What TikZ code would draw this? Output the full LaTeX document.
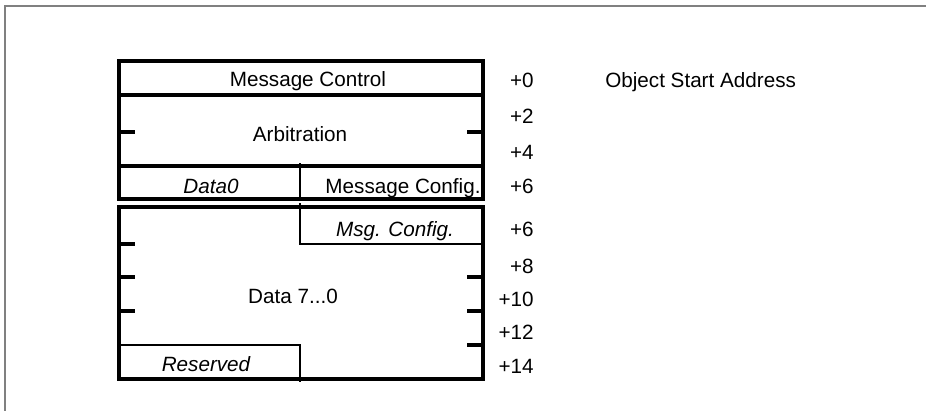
\documentclass[tikz,border=0pt]{standalone}
\usepackage{fontspec}
\setmainfont{Liberation Sans}
\usepackage{tikz}
\usepackage{xcolor}

\begin{document}
\begin{tikzpicture}[x=0.75pt,y=0.75pt,yscale=-1,xscale=1,
    lbl/.style={inner sep=0.75pt,font=\fontsize{15.5}{18}\selectfont},
    offs/.style={lbl,anchor=base east},
    heavy/.style={color={rgb, 255:red, 0; green, 0; blue, 0 },line width=2.5},
    thin/.style={color={rgb, 255:red, 0; green, 0; blue, 0 },line width=2}]
            \useasboundingbox (0,0) rectangle (926,411);
            
            %Shape: Frame
            \draw [color={rgb, 255:red, 128; green, 128; blue, 128 }  ,draw opacity=1 ][line width=1.5]  (4.5,411) -- (4.5,6) -- (926,6) ;
            
            %Shape: Rectangle [upper block]
            \draw [heavy]  (119,61) -- (483,61) -- (483,199) -- (119,199) -- cycle ;
            %Straight Lines [row lines]
            \draw [heavy]  (119,95) -- (483,95) (119,166) -- (483,166) ;
            %Straight Lines [column line]
            \draw [thin]  (300,163) -- (300,201) ;
            %Straight Lines [ticks]
            \draw [heavy]  (119,132) -- (135,132) (467,132) -- (483,132) ;
            
            %Shape: Rectangle [lower block]
            \draw [heavy]  (119,207) -- (483,207) -- (483,379) -- (119,379) -- cycle ;
            %Straight Lines [Msg. Config. cell]
            \draw [thin]  (300,203) -- (300,244) -- (483,244) ;
            %Straight Lines [Reserved cell]
            \draw [thin]  (119,345) -- (300,345) -- (300,382) ;
            %Straight Lines [ticks]
            \draw [heavy]  (119,244) -- (135,244) (119,277) -- (135,277) (119,311) -- (135,311) ;
            \draw [heavy]  (467,277) -- (483,277) (467,311) -- (483,311) (467,345) -- (483,345) ;
            
            % Text Node
            \draw (308,86) node (msgctrl) [lbl,anchor=base]  {Message Control};
            % Text Node
            \draw (300,141) node (arbit) [lbl,anchor=base]  {Arbitration};
            % Text Node
            \draw (211,193) node (dzero) [lbl,anchor=base]  {\itshape Data0};
            % Text Node
            \draw (403,193) node (msgcfg) [lbl,anchor=base]  {Message Config.};
            % Text Node
            \draw (395,236) node (msgcfgb) [lbl,anchor=base]  {\itshape Msg. Config.};
            % Text Node
            \draw (293,303) node (datas) [lbl,anchor=base]  {Data 7...0};
            % Text Node
            \draw (206,371) node (resv) [lbl,anchor=base]  {\itshape Reserved};
            
            % Text Node
            \draw (535,87) node (off0) [offs]  {+0};
            % Text Node
            \draw (535,123) node (off2) [offs]  {+2};
            % Text Node
            \draw (535,159) node (off4) [offs]  {+4};
            % Text Node
            \draw (535,193) node (off6) [offs]  {+6};
            % Text Node
            \draw (535,236) node (off6b) [offs]  {+6};
            % Text Node
            \draw (535,273) node (off8) [offs]  {+8};
            % Text Node
            \draw (535,306) node (off10) [offs]  {+10};
            % Text Node
            \draw (535,339) node (off12) [offs]  {+12};
            % Text Node
            \draw (535,373) node (off14) [offs]  {+14};
            
            % Text Node
            \draw (604,87) node (start) [lbl,anchor=base west]  {Object Start Address};
        \end{tikzpicture}
\end{document}
